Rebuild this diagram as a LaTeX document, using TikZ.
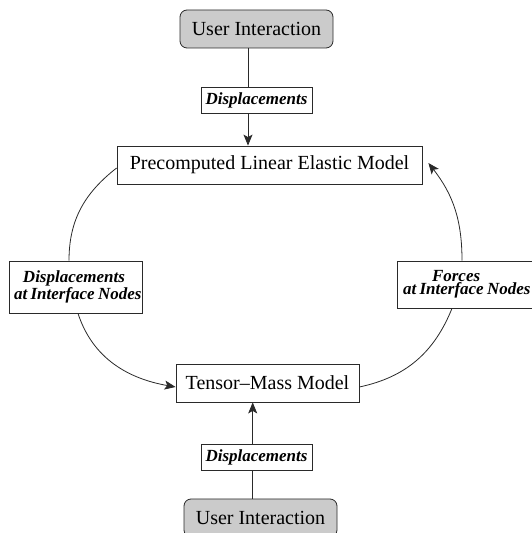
\documentclass[tikz,border=0pt]{standalone}
\usepackage{fontspec}
\setmainfont{Liberation Serif}
\usetikzlibrary{arrows.meta,calc}
\definecolor{linec}{HTML}{2A2A2A}
\definecolor{uigray}{HTML}{CBCBCB}
\begin{document}
\begin{tikzpicture}[x=1pt,y=1pt,
  line width=0.8pt,
  every node/.style={draw=linec, line width=0.8pt, inner sep=0pt, text=black},
  mainbox/.style={rectangle, font=\fontsize{20}{24}\selectfont},
  uibox/.style={mainbox, rounded corners=7pt, fill=uigray},
  dispbox/.style={rectangle, font=\fontsize{17}{20}\selectfont\bfseries\itshape},
  lablbox/.style={rectangle, align=left, font=\bfseries\itshape},
  conn/.style={draw=linec, line width=0.8pt},
  arr/.style={conn, -{Stealth[length=11pt,width=9pt,inset=2.5pt]}}
]
\useasboundingbox (0,0) rectangle (532,533);
\clip (0,0) rectangle (532,533);

\node[uibox, minimum width=153, minimum height=38] (ui1) at (256.5,504) {User Interaction};
\node[dispbox, minimum width=111, minimum height=26] (d1) at (256.5,433) {Displacements};
\node[mainbox, minimum width=305, minimum height=38] (pre) at (269.5,368) {Precomputed Linear Elastic Model};
\node[lablbox, text width=123, inner xsep=5, minimum height=52] (lab1) at (75.5,246)
  {\fontsize{17}{21}\selectfont\hspace*{9pt}Displacements\\\mbox{at Interface Nodes}};
\node[lablbox, text width=131, inner xsep=6, minimum height=47] (lab2) at (468.5,248.5)
  {\fontsize{17}{20.5}\selectfont\hspace*{29pt}Forces\\\mbox{at Interface Nodes}};
\node[mainbox, minimum width=183, minimum height=38] (tm) at (267.5,150) {Tensor--Mass Model};
\node[dispbox, minimum width=111, minimum height=26] (d2) at (256.5,76) {Displacements};
\node[uibox, minimum width=153, minimum height=38] (ui2) at (260.5,15) {User Interaction};

\coordinate (ax1) at (248,0);
\coordinate (ax2) at (252.7,0);

% top vertical
\draw[conn] (ui1.south -| ax1) -- (d1.north -| ax1);
\draw[arr] (d1.south -| ax1) -- (pre.north -| ax1);
% bottom vertical
\draw[conn] (ui2.north -| ax2) -- (d2.south -| ax2);
\draw[arr] (d2.north -| ax2) -- (tm.south -| ax2);

% left cycle
\draw[conn] ($(pre.west)+(0,-3)$) to[out=218,in=90] ($(lab1.north)+(-6.5,0)$);
\draw[arr] ($(lab1.south)+(2.5,0)$) to[out=-72,in=170] ($(tm.west)+(0,-4)$);
% right cycle
\draw[conn] ($(tm.east)+(0,-4)$) to[out=12,in=-112] ($(lab2.south)+(-16.5,0)$);
\draw[arr] ($(lab2.north)+(-6.5,0)$) to[out=90,in=-52] ($(pre.east)+(6,2)$);
\end{tikzpicture}
\end{document}
